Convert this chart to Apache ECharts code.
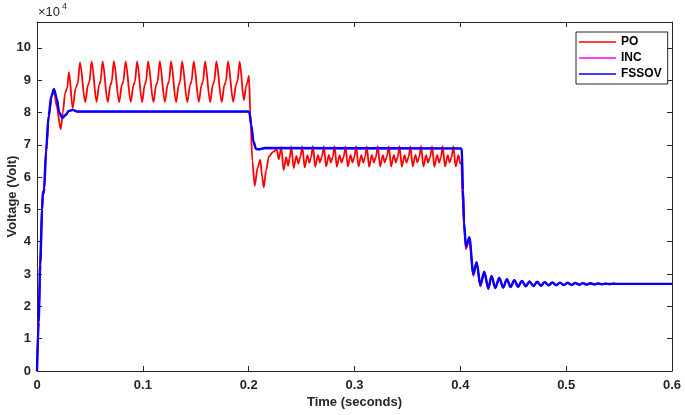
<!DOCTYPE html>
<html>
<head>
<meta charset="utf-8">
<script src="https://cdn.jsdelivr.net/npm/echarts@6/dist/echarts.min.js"></script>
<style>
  html, body { margin: 0; padding: 0; background: #fff; }
  #main { width: 685px; height: 415px; }
</style>
</head>
<body>
<div id="main"></div>
<script>
// values in units of 10^4 volt, time in seconds
var xTicks = [0, 0.1, 0.2, 0.3, 0.4, 0.5, 0.6];
var yTicks = [0, 1, 2, 3, 4, 5, 6, 7, 8, 9, 10];

// common decaying tail after the 0.4 s step (all three controllers)
var settleTail = [
  [0.4330, 2.57], [0.4368, 2.88], [0.4404, 2.58], [0.4440, 2.84], [0.4475, 2.60],
  [0.4510, 2.81], [0.4546, 2.61], [0.4582, 2.79], [0.4618, 2.62], [0.4654, 2.77],
  [0.4690, 2.63], [0.4726, 2.76], [0.4762, 2.64], [0.4798, 2.75], [0.4834, 2.65],
  [0.4870, 2.74], [0.4906, 2.655], [0.4942, 2.735], [0.4978, 2.66], [0.5014, 2.73],
  [0.5050, 2.665], [0.5086, 2.725], [0.5122, 2.67], [0.5158, 2.72], [0.5194, 2.675],
  [0.5230, 2.715], [0.5266, 2.68], [0.5302, 2.71], [0.5338, 2.685], [0.5374, 2.705],
  [0.5410, 2.69], [0.5446, 2.70], [0.5500, 2.695], [0.6000, 2.695]
];

var poVolt = [
  [0, 0], [0.002, 2.0], [0.004, 4.3], [0.0055, 5.5], [0.0065, 5.6], [0.008, 6.5],
  [0.011, 7.8], [0.014, 8.5], [0.016, 8.72], [0.0185, 8.2], [0.0224, 7.48],
  [0.0245, 8.0], [0.0265, 8.6], [0.0285, 8.75], [0.0302, 9.25], [0.0337, 8.13],
  [0.0365, 8.75], [0.0385, 8.9], [0.0406, 9.55],
  [0.0455, 8.32], [0.0482, 8.85], [0.0495, 8.95], [0.0516, 9.58],
  [0.0563, 8.33], [0.0588, 8.86], [0.0600, 8.96], [0.0620, 9.58],
  [0.0668, 8.32], [0.0694, 8.85], [0.0706, 8.95], [0.0726, 9.59],
  [0.0776, 8.32], [0.0803, 8.86], [0.0816, 8.96], [0.0837, 9.58],
  [0.0886, 8.33], [0.0912, 8.85], [0.0925, 8.95], [0.0946, 9.58],
  [0.0993, 8.32], [0.1018, 8.86], [0.1030, 8.96], [0.1050, 9.58],
  [0.1100, 8.32], [0.1126, 8.85], [0.1139, 8.95], [0.1160, 9.58],
  [0.1208, 8.33], [0.1234, 8.86], [0.1247, 8.96], [0.1267, 9.58],
  [0.1314, 8.32], [0.1339, 8.85], [0.1351, 8.95], [0.1371, 9.58],
  [0.1420, 8.32], [0.1447, 8.86], [0.1460, 8.96], [0.1481, 9.58],
  [0.1529, 8.33], [0.1555, 8.85], [0.1568, 8.95], [0.1588, 9.58],
  [0.1636, 8.32], [0.1662, 8.86], [0.1675, 8.96], [0.1695, 9.58],
  [0.1745, 8.32], [0.1771, 8.85], [0.1784, 8.95], [0.1805, 9.58],
  [0.1854, 8.33], [0.1881, 8.86], [0.1894, 8.96], [0.1915, 9.57],
  [0.1955, 8.38], [0.1975, 8.80], [0.1985, 8.90], [0.2003, 9.13],
  [0.2015, 8.0], [0.2035, 6.5], [0.2057, 5.73], [0.2085, 6.3], [0.2110, 6.53],
  [0.2128, 6.0], [0.2142, 5.68], [0.2165, 6.2], [0.2190, 6.63], [0.2230, 6.78],
  [0.2265, 6.85], [0.2285, 6.55],
  [0.2308, 6.93], [0.2330, 6.22], [0.2355, 6.62], [0.2372, 6.35], [0.2388, 6.60],
  [0.2403, 6.95], [0.2425, 6.28], [0.2451, 6.66], [0.2469, 6.42], [0.2488, 6.62],
  [0.2507, 6.95], [0.2529, 6.30], [0.2555, 6.68], [0.2573, 6.44], [0.2590, 6.62],
  [0.2607, 6.96], [0.2629, 6.32], [0.2655, 6.68], [0.2673, 6.45], [0.2692, 6.63],
  [0.2710, 6.95], [0.2732, 6.33], [0.2758, 6.69], [0.2776, 6.45], [0.2794, 6.62],
  [0.2811, 6.96], [0.2833, 6.32], [0.2859, 6.68], [0.2877, 6.45], [0.2897, 6.62],
  [0.2915, 6.95], [0.2937, 6.33], [0.2963, 6.69], [0.2981, 6.45], [0.2999, 6.63],
  [0.3016, 6.96], [0.3038, 6.33], [0.3064, 6.68], [0.3082, 6.45], [0.3100, 6.62],
  [0.3116, 6.95], [0.3138, 6.32], [0.3164, 6.69], [0.3182, 6.45], [0.3202, 6.62],
  [0.3220, 6.96], [0.3242, 6.33], [0.3268, 6.68], [0.3286, 6.45], [0.3305, 6.63],
  [0.3324, 6.95], [0.3346, 6.33], [0.3372, 6.69], [0.3390, 6.45], [0.3408, 6.62],
  [0.3425, 6.96], [0.3447, 6.32], [0.3473, 6.68], [0.3491, 6.45], [0.3511, 6.62],
  [0.3528, 6.95], [0.3550, 6.33], [0.3576, 6.69], [0.3594, 6.45], [0.3612, 6.63],
  [0.3629, 6.96], [0.3651, 6.33], [0.3677, 6.68], [0.3695, 6.45], [0.3715, 6.62],
  [0.3733, 6.95], [0.3755, 6.32], [0.3781, 6.69], [0.3799, 6.45], [0.3817, 6.62],
  [0.3833, 6.96], [0.3855, 6.33], [0.3881, 6.68], [0.3899, 6.45], [0.3918, 6.63],
  [0.3934, 6.95], [0.3956, 6.33], [0.3982, 6.68], [0.4000, 6.42], [0.4010, 6.45],
  [0.4022, 5.2], [0.4038, 4.3], [0.4053, 3.77], [0.4085, 4.10], [0.4123, 2.94],
  [0.4154, 3.35], [0.4189, 2.62], [0.4226, 3.06], [0.4264, 2.53], [0.4295, 2.93]
].concat(settleTail);

var incVolt = [
  [0, 0], [0.0017, 1.5], [0.0033, 3.3], [0.005, 5.0], [0.0057, 5.55], [0.0064, 5.5],
  [0.007, 5.65], [0.0087, 6.8], [0.0112, 7.9], [0.0137, 8.5], [0.0162, 8.7],
  [0.0187, 8.42], [0.0212, 7.98], [0.0242, 7.84], [0.0272, 7.93], [0.0302, 8.05],
  [0.034, 8.07], [0.038, 8.02], [0.2005, 8.02], [0.2027, 7.55], [0.2047, 7.05],
  [0.2072, 6.86], [0.210, 6.85], [0.215, 6.89], [0.400, 6.88], [0.4013, 6.87],
  [0.4026, 5.55], [0.4036, 4.55], [0.4053, 3.82], [0.4085, 4.12], [0.4123, 2.98],
  [0.4154, 3.36], [0.4189, 2.65], [0.4226, 3.07], [0.4264, 2.56], [0.4295, 2.94]
].concat(settleTail);

var fssovVolt = [
  [0, 0], [0.0015, 1.5], [0.003, 3.3], [0.0048, 5.0], [0.0055, 5.55], [0.0062, 5.5],
  [0.0068, 5.65], [0.0085, 6.8], [0.011, 7.9], [0.0135, 8.5], [0.016, 8.72],
  [0.0185, 8.45], [0.021, 8.0], [0.024, 7.83], [0.027, 7.92], [0.030, 8.05],
  [0.034, 8.08], [0.038, 8.03], [0.2005, 8.03], [0.2025, 7.6], [0.2045, 7.1],
  [0.207, 6.87], [0.210, 6.86], [0.215, 6.9], [0.400, 6.89], [0.4012, 6.88],
  [0.4025, 5.6], [0.4035, 4.6], [0.4053, 3.85], [0.4085, 4.14], [0.4123, 3.0],
  [0.4154, 3.37], [0.4189, 2.66], [0.4226, 3.07], [0.4264, 2.56], [0.4295, 2.94]
].concat(settleTail);

var seriesNames = ['PO', 'INC', 'FSSOV'];
var seriesColors = ['#ff0000', '#ff00ff', '#0000ff'];

var myChart = echarts.init(document.getElementById('main'));

var axisCol = '#262626';
var labelFont = { fontFamily: 'Liberation Sans', fontWeight: 'bold', fontSize: 13, color: '#262626' };

function intLabel(v) {
  return yTicks.indexOf(v) >= 0 ? String(v) : '';
}

myChart.setOption({
  animation: false,
  grid: { left: 37, right: 13, top: 22, bottom: 44, show: false, containLabel: false, outerBoundsMode: 'none' },
  legend: {
    data: seriesNames.map(function (n) { return { name: n, icon: 'rect' }; }),
    orient: 'vertical',
    left: 576,
    top: 32,
    padding: [3, 6, 3, 3],
    itemWidth: 37,
    itemHeight: 2,
    itemGap: 2,
    backgroundColor: '#fff',
    borderColor: axisCol,
    borderWidth: 1,
    itemStyle: { opacity: 0.75 },
    textStyle: { fontFamily: 'Liberation Sans', fontWeight: 'bold', fontSize: 12, color: '#000', lineHeight: 14 }
  },
  xAxis: [{
    type: 'value',
    min: 0, max: 0.6, interval: 0.1,
    name: 'Time (seconds)',
    nameLocation: 'middle',
    nameGap: 25,
    nameMoveOverlap: false,
    nameTextStyle: labelFont,
    axisLine: { show: true, onZero: false, lineStyle: { color: axisCol, width: 1 } },
    axisTick: { show: true, inside: true, length: 5, lineStyle: { color: axisCol } },
    axisLabel: Object.assign({ margin: 8, formatter: function (v) { return xTicks.indexOf(v) >= 0 ? String(v) : ''; } }, labelFont),
    splitLine: { show: false }
  }, {
    type: 'value', position: 'top',
    min: 0, max: 0.6, interval: 0.1,
    axisLine: { show: true, onZero: false, lineStyle: { color: axisCol, width: 1 } },
    axisTick: { show: true, inside: true, length: 5, lineStyle: { color: axisCol } },
    axisLabel: { show: false },
    splitLine: { show: false }
  }],
  yAxis: [{
    type: 'value',
    min: 0, max: 10.8, interval: 1,
    name: 'Voltage (Volt)',
    nameLocation: 'middle',
    nameGap: 18,
    nameMoveOverlap: false,
    nameTextStyle: labelFont,
    axisLine: { show: true, onZero: false, lineStyle: { color: axisCol, width: 1 } },
    axisTick: { show: true, inside: true, length: 5, lineStyle: { color: axisCol } },
    axisLabel: Object.assign({ margin: 6, formatter: intLabel }, labelFont),
    splitLine: { show: false }
  }, {
    type: 'value', position: 'right',
    min: 0, max: 10.8, interval: 1,
    axisLine: { show: true, onZero: false, lineStyle: { color: axisCol, width: 1 } },
    axisTick: { show: true, inside: true, length: 5, lineStyle: { color: axisCol } },
    axisLabel: { show: false },
    splitLine: { show: false }
  }],
  graphic: [
    { type: 'text', left: 38, top: 6, style: { text: '×10', fontFamily: 'Liberation Sans', fontSize: 13, fill: '#262626' } },
    { type: 'text', left: 62, top: 2, style: { text: '4', fontFamily: 'Liberation Sans', fontSize: 9, fill: '#262626' } }
  ],
  series: [{
    name: seriesNames[0], type: 'line', data: poVolt, symbol: 'none',
    smooth: 0.3, smoothMonotone: 'x',
    color: seriesColors[0], lineStyle: { width: 1.8, color: seriesColors[0] }
  }, {
    name: seriesNames[1], type: 'line', data: incVolt, symbol: 'none',
    smooth: 0.3, smoothMonotone: 'x',
    color: seriesColors[1], lineStyle: { width: 1.8, color: seriesColors[1] }
  }, {
    name: seriesNames[2], type: 'line', data: fssovVolt, symbol: 'none',
    smooth: 0.3, smoothMonotone: 'x',
    color: seriesColors[2], lineStyle: { width: 2.4, color: seriesColors[2] }
  }]
});
</script>
</body>
</html>
